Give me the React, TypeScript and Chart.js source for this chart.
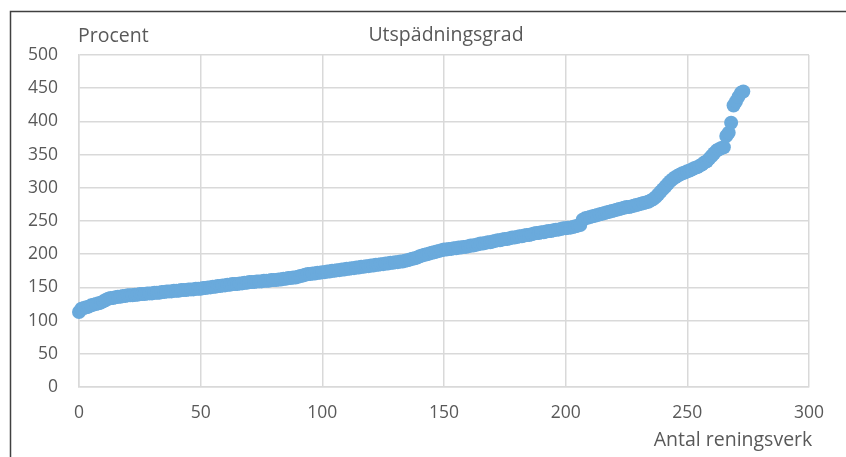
import React, { useEffect, useRef } from "react";
import { Chart, registerables } from "chart.js";

Chart.register(...registerables);

const chartTitle = "Utspädningsgrad";
const yAxisTitle = "Procent";
const xAxisTitle = "Antal reningsverk";

const xTicks = [0, 50, 100, 150, 200, 250, 300];
const yTicks = [0, 50, 100, 150, 200, 250, 300, 350, 400, 450, 500];

// Utspädningsgrad (%) per reningsverk, sorted ascending (index 0..273)
const dilution: number[] = [
  113, 118, 119, 120, 121, 123, 124, 125, 126, 127,
  129, 131, 133, 134, 134, 135, 136, 136, 137, 137,
  138, 138, 138, 139, 139, 140, 140, 140, 141, 141,
  141, 142, 142, 142, 143, 143, 144, 144, 144, 145,
  145, 145, 146, 146, 146, 147, 147, 147, 148, 148,
  148, 149, 149, 150, 150, 151, 151, 152, 152, 153,
  153, 154, 154, 155, 155, 155, 156, 156, 157, 157,
  158, 158, 158, 159, 159, 159, 160, 160, 160, 161,
  161, 161, 162, 162, 163, 163, 164, 164, 165, 165,
  166, 167, 168, 169, 170, 170, 171, 171, 172, 172,
  173, 173, 174, 174, 175, 175, 176, 176, 177, 177,
  178, 178, 179, 179, 180, 180, 181, 181, 182, 182,
  183, 183, 184, 184, 185, 185, 186, 186, 187, 187,
  188, 188, 189, 189, 190, 191, 192, 193, 194, 195,
  197, 198, 199, 200, 201, 202, 203, 204, 205, 206,
  207, 207, 208, 208, 209, 209, 210, 210, 211, 211,
  212, 213, 213, 214, 215, 216, 216, 217, 218, 218,
  219, 220, 221, 221, 222, 223, 223, 224, 225, 225,
  226, 227, 227, 228, 229, 229, 230, 231, 232, 232,
  233, 233, 234, 235, 235, 236, 237, 237, 238, 239,
  239, 240, 240, 241, 242, 243, 244, 252, 254, 255,
  256, 257, 258, 259, 260, 261, 262, 263, 264, 265,
  266, 267, 268, 269, 270, 271, 271, 272, 273, 274,
  275, 276, 277, 278, 279, 281, 283, 286, 290, 294,
  298, 302, 306, 310, 313, 316, 318, 320, 322, 323,
  325, 326, 328, 330, 331, 333, 335, 338, 340, 344,
  348, 352, 356, 358, 360, 361, 378, 383, 398, 424,
  430, 437, 443, 445,
];

const FONT = "'Open Sans', 'DejaVu Sans', sans-serif";
const TEXT_COLOR = "#595959";
const GRID_COLOR = "#d9d9d9";
const POINT_COLOR = "#6aaadc";

const overlayPlugin = {
  id: "overlay",
  afterDraw(chart: any) {
    const ctx = chart.ctx as CanvasRenderingContext2D;
    const area = chart.chartArea;
    ctx.save();
    // outer frame (left + top)
    ctx.strokeStyle = "#404040";
    ctx.lineWidth = 1.5;
    ctx.beginPath();
    ctx.moveTo(10.5, chart.height);
    ctx.lineTo(10.5, 11.5);
    ctx.lineTo(chart.width, 11.5);
    ctx.stroke();

    ctx.fillStyle = TEXT_COLOR;
    ctx.font = `19.5px ${FONT}`;
    ctx.textBaseline = "alphabetic";
    ctx.textAlign = "center";
    ctx.fillText(chartTitle, 446, 41);
    ctx.textAlign = "left";
    ctx.fillText(yAxisTitle, area.left - 1, 42);
    ctx.textAlign = "center";
    ctx.fillText(xAxisTitle, 733, 446);
    ctx.restore();
  },
};

export default function App() {
  const ref = useRef<HTMLCanvasElement | null>(null);

  useEffect(() => {
    document.body.style.margin = "0";
    const canvas = ref.current;
    if (!canvas) return;
    const points = dilution.map((v, i) => ({ x: i, y: v }));
    const chart = new Chart(canvas, {
      type: "scatter",
      data: {
        datasets: [
          {
            data: points,
            backgroundColor: POINT_COLOR,
            borderWidth: 0,
            pointRadius: 7,
            pointHoverRadius: 7,
            showLine: false,
            clip: false,
          },
        ],
      },
      plugins: [overlayPlugin],
      options: {
        animation: false,
        responsive: false,
        devicePixelRatio: 1,
        layout: { padding: { left: 0, right: 37, top: 55, bottom: 0 } },
        plugins: {
          legend: { display: false },
          tooltip: { enabled: false },
          title: { display: false },
        },
        scales: {
          x: {
            type: "linear",
            min: xTicks[0],
            max: xTicks[xTicks.length - 1],
            afterBuildTicks: (scale: any) => {
              scale.ticks = xTicks.map((v) => ({ value: v }));
            },
            afterFit: (scale: any) => {
              scale.height = 70;
            },
            grid: { color: GRID_COLOR, lineWidth: 1.5, drawTicks: false },
            border: { color: GRID_COLOR, width: 1.5 },
            ticks: {
              color: TEXT_COLOR,
              font: { family: FONT, size: 17.5 },
              padding: 16,
              maxRotation: 0,
            },
          },
          y: {
            type: "linear",
            min: yTicks[0],
            max: yTicks[yTicks.length - 1],
            afterBuildTicks: (scale: any) => {
              scale.ticks = yTicks.map((v) => ({ value: v }));
            },
            afterFit: (scale: any) => {
              scale.width = 79;
            },
            grid: { color: GRID_COLOR, lineWidth: 1.5, drawTicks: false },
            border: { color: GRID_COLOR, width: 1.5 },
            ticks: {
              color: TEXT_COLOR,
              font: { family: FONT, size: 17.5 },
              padding: 21,
            },
          },
        },
      },
    } as any);
    return () => chart.destroy();
  }, []);

  return (
    <div style={{ width: 846, height: 457, background: "#ffffff" }}>
      <canvas ref={ref} width={846} height={457} style={{ display: "block" }} />
    </div>
  );
}
